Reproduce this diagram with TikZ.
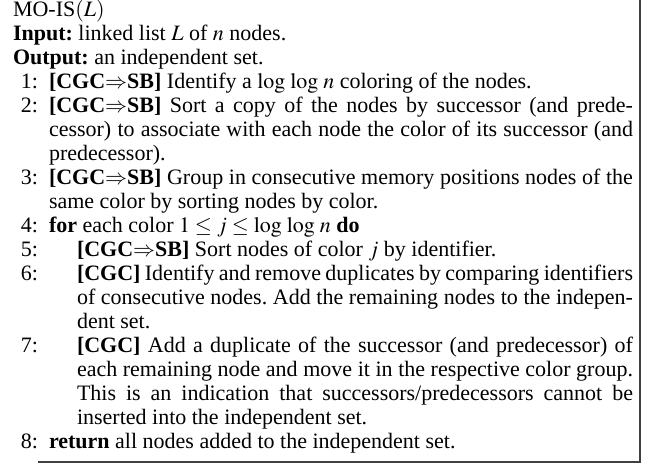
\documentclass[tikz,border=0pt]{standalone}
\usepackage{mathptmx}
\usepackage{fontspec}
\setmainfont{Liberation Serif}
\usetikzlibrary{positioning}
\frenchspacing

\newcommand{\cgcsb}{\textbf{[CGC$\Rightarrow$SB]}}
\newcommand{\cgconly}{\textbf{[CGC]}}
\newcommand{\loglog}{\log\,\log\,}

\begin{document}
\begin{tikzpicture}
      \tikzstyle{rowbox} = [inner sep=0pt, outer sep=0pt, anchor=north west, font=\fontsize{11}{12}\selectfont]
      \tikzstyle{stepbox} = [rowbox, text width=292pt, align=justify]
      \tikzstyle{substep} = [rowbox, text width=278pt, align=justify]
      \tikzstyle{numbox} = [inner sep=0pt, outer sep=0pt, anchor=north east, font=\fontsize{11}{12}\selectfont]
      \tikzstyle{frame} = [line width=1pt, black!75]

      \useasboundingbox (0,0) rectangle (330pt,-233pt);

      \coordinate (lvl0) at (24.5pt,0);
      \coordinate (lvl1) at (38.5pt,0);
      \coordinate (numcol) at (19pt,0);

      % header
      \node (title) [rowbox] at (6.5pt,0.2pt) {\strut MO-IS$(L)$\strut};
      \node (input) [rowbox, below right=0pt of title.south west] {\strut\textbf{Input:} linked list $L$ of $n$ nodes.\strut};
      \node (output) [rowbox, below right=0pt of input.south west] {\strut\textbf{Output:} an independent set.\strut};

      % steps
      \node (s1) [stepbox] at (lvl0 |- output.south) {\strut\cgcsb{} Identify a $\loglog n$ coloring of the nodes.\strut};
      \node (s2) [stepbox] at (lvl0 |- s1.south) {\strut\cgcsb{} Sort a copy of the nodes by successor (and prede-\linebreak cessor) to associate with each node the color of its successor (and\linebreak predecessor).\strut};
      \node (s3) [stepbox] at (lvl0 |- s2.south) {\strut\cgcsb{} Group in consecutive memory positions nodes of the\linebreak same color by sorting nodes by color.\strut};
      \node (s4) [stepbox] at (lvl0 |- s3.south) {\strut\textbf{for} each color $1 \leq j \leq \loglog n$ \textbf{do}\strut};
      \node (s5) [substep] at (lvl1 |- s4.south) {\strut\cgcsb{} Sort nodes of color $j$ by identifier.\strut};
      \node (s6) [substep] at (lvl1 |- s5.south) {\strut\cgconly{} Identify and remove duplicates by comparing identifiers\linebreak of consecutive nodes. Add the remaining nodes to the indepen-\linebreak dent set.\strut};
      \node (s7) [substep] at (lvl1 |- s6.south) {\strut\cgconly{} Add a duplicate of the successor (and predecessor) of\linebreak each remaining node and move it in the respective color group.\linebreak This is an indication that successors/predecessors cannot be\linebreak inserted into the independent set.\strut};
      \node (s8) [stepbox] at (lvl0 |- s7.south) {\strut\textbf{return} all nodes added to the independent set.\strut};

      % line numbers
      \foreach \i in {1,...,8}
        \node (n\i) [numbox] at (numcol |- s\i.north) {\strut\i:\strut};

      % box
      \draw [frame] (numcol |- 0,-231pt) -- (320pt,-231pt) -- (320pt,2pt);
\end{tikzpicture}
\end{document}
